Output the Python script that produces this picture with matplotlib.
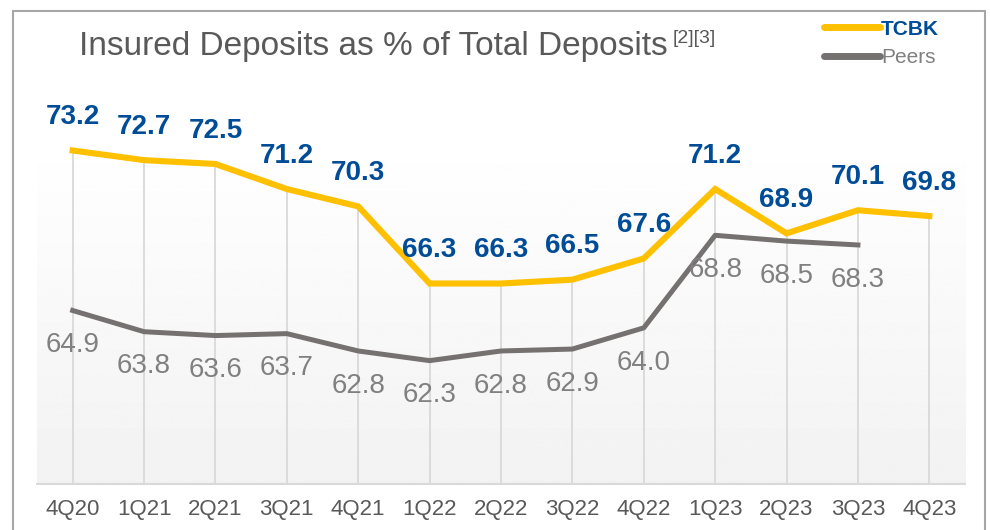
import numpy as np
import matplotlib
matplotlib.use("Agg")
import matplotlib.pyplot as plt
from matplotlib.lines import Line2D
from matplotlib.patches import Rectangle

plt.rcParams['font.family'] = ['Liberation Sans', 'DejaVu Sans']

# data
quarters = ['4Q20', '1Q21', '2Q21', '3Q21', '4Q21', '1Q22', '2Q22',
            '3Q22', '4Q22', '1Q23', '2Q23', '3Q23', '4Q23']
tcbk = [73.2, 72.7, 72.5, 71.2, 70.3, 66.3, 66.3, 66.5, 67.6, 71.2, 68.9, 70.1, 69.8]
peers = [64.9, 63.8, 63.6, 63.7, 62.8, 62.3, 62.8, 62.9, 64.0, 68.8, 68.5, 68.3]

yellow = '#FFC000'
grey_line = '#767171'
blue = '#004C97'
grey_text = '#808080'

fig = plt.figure(figsize=(9.9, 5.3), dpi=100)
ax = fig.add_axes([37 / 990, 46 / 530, 928 / 990, 347 / 530])

x = np.arange(len(quarters))
ymin, ymax = 55.9, 73.9

# background gradient, white at top to light grey at bottom
grad = np.linspace(1.0, 0.949, 256).reshape(-1, 1)
ax.imshow(grad, extent=[-0.5, len(quarters) - 0.5, ymin, ymax], aspect='auto',
          cmap='gray', vmin=0, vmax=1, zorder=0, origin='upper')

# drop lines from the TCBK points
ax.vlines(x, ymin, tcbk, color='#D9D9D9', lw=1.3, zorder=1)

ax.plot(x, tcbk, color=yellow, lw=4.4, solid_joinstyle='miter', zorder=3)
ax.plot(x[:len(peers)], peers, color=grey_line, lw=3.6, zorder=2)

for i, v in enumerate(tcbk):
    ax.annotate(f'{v:.1f}', (i, v), xytext=(0, 24), textcoords='offset points',
                ha='center', va='center', fontsize=20, fontweight='bold',
                color=blue, zorder=5)
for i, v in enumerate(peers):
    ax.annotate(f'{v:.1f}', (i, v), xytext=(0, -25), textcoords='offset points',
                ha='center', va='center', fontsize=20, color=grey_text, zorder=5)

ax.set_xlim(-0.5, len(quarters) - 0.5)
ax.set_ylim(ymin, ymax)
ax.set_xticks(x)
ax.set_xticklabels(quarters, fontsize=16, color='#595959')
ax.tick_params(axis='x', length=0, pad=11)
ax.set_yticks([])
for s in ['top', 'left', 'right']:
    ax.spines[s].set_visible(False)
ax.spines['bottom'].set_color('#D9D9D9')
ax.spines['bottom'].set_linewidth(1.5)

# outer frame
fig.patches.append(Rectangle((13 / 990, -0.02), 972 / 990, 1.0, transform=fig.transFigure,
                             fill=False, edgecolor='#A6A6A6', lw=1.5))

# title with superscript notes
t = fig.text(79 / 990, 1 - 55 / 530, 'Insured Deposits as % of Total Deposits',
             fontsize=24, color='#595959', va='baseline')
fig.canvas.draw()
bb = t.get_window_extent()
fig.text((bb.x1 + 5) / 990, 1 - 43 / 530, '[2][3]', fontsize=14, color='#595959',
         va='baseline')

# legend
handles = [Line2D([], [], color=yellow, lw=5, solid_capstyle='round'),
           Line2D([], [], color=grey_line, lw=5, solid_capstyle='round')]
leg = fig.legend(handles, ['TCBK', 'Peers'], loc='upper left',
                 bbox_to_anchor=(805 / 990, 1 - 1 / 530), frameon=False,
                 fontsize=15, handlelength=2.7, handletextpad=0.05,
                 labelspacing=0.45, labelcolor=[blue, grey_text])
leg.get_texts()[0].set_fontweight('bold')

fig.savefig('out.png', dpi=100)
